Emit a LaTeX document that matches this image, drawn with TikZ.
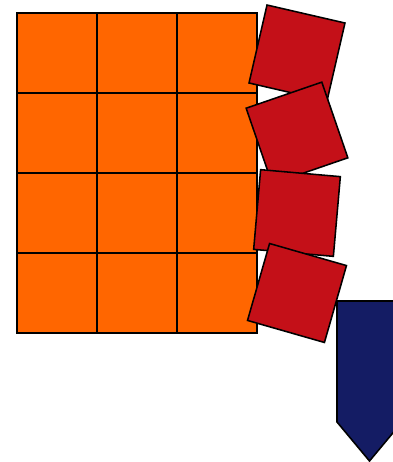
\documentclass[tikz,border=0pt]{standalone}
\usepackage{tikz}
\usetikzlibrary{positioning}
\definecolor{tileorange}{RGB}{255,102,0}
\definecolor{tilered}{RGB}{196,16,24}
\definecolor{tagblue}{RGB}{20,28,100}

\begin{document}
\begin{tikzpicture}[x=0.025cm, y=-0.025cm]
        \tikzstyle{cell} = [rectangle, minimum size=2cm, inner sep=0pt, draw=black, line width=1.1pt, fill=tileorange]
        \tikzstyle{tile} = [rectangle, minimum size=2cm, inner sep=0pt, draw=black, line width=1.1pt, fill=tilered]
        \tikzstyle{tag} = [draw=black, line width=1.1pt, fill=tagblue]

        \useasboundingbox (0,0) rectangle (393,462);
        \clip (0,0) rectangle (393,462);

        % orange grid
        \foreach \r in {1,...,4}
            \foreach \c in {1,...,3}
                \node (c\r\c) [cell] at (80*\c-23, 80*\r-27) {};

        % tilted red tiles
        \node (t1) [tile, rotate=-13] at (297,53) {};
        \node (t2) [tile, rotate=19] at (297,133) {};
        \node (t3) [tile, rotate=-5] at (297,213) {};
        \node (t4) [tile, rotate=-16] at (297,293) {};

        % blue tag
        \coordinate (tl) at (337,301);
        \coordinate (tr) at (402,301);
        \coordinate (tip) at (369.5,461);
        \draw [tag] (tl) -- (tr) -- (402,422) -- (tip) -- (337,422) -- cycle;
    \end{tikzpicture}
\end{document}
